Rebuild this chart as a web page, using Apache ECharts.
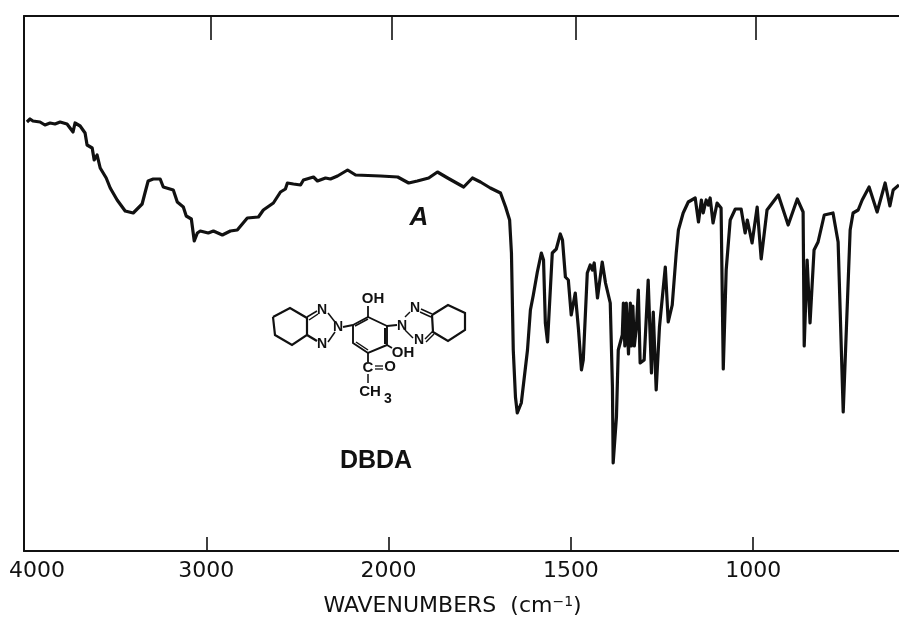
<!DOCTYPE html>
<html>
<head>
<meta charset="utf-8">
<style>html,body{margin:0;padding:0;background:#fff}#c{width:899px;height:619px}</style>
<script src="https://cdn.jsdelivr.net/npm/echarts@6/dist/echarts.min.js"></script>
</head>
<body>
<div id="c"></div>
<script>
const wavenumbers = [3984,3967,3951,3912,3885,3857,3830,3802,3764,3731,3720,3692,3665,3654,3626,3615,3599,3582,3549,3527,3489,3445,3401,3352,3335,3319,3291,3253,3236,3181,3159,3126,3110,3082,3066,3049,3033,2989,2961,2912,2868,2830,2775,2714,2687,2632,2593,2566,2555,2522,2483,2467,2412,2390,2346,2319,2280,2225,2181,2044,
1975,1945,1921,1890,1866,1838,1794,1770,1748,1721,1693,1679,1668,1663,1658,1652,1647,1636,1619,1611,1603,1592,1581,1575,1570,1564,1551,1540,1529,1523,1515,1507,1499,1488,1479,1471,1466,1455,1447,1441,1436,1427,1414,1405,1392,1386,1384,1375,1370,1359,1356,1352,1348,1342,1337,1334,1330,1326,1320,1315,1310,1299,1288,1279,1274,1266,1257,1241,1233,1222,1211,1205,1192,1178,1159,1150,1142,1137,1129,1123,1118,1110,1099,1088,1082,1074,1063,1049,1033,1022,1016,1003,989,978,962,931,904,879,863,860,852,844,833,822,805,781,767,753,734,726,712,701,682,660,638,625,616,600];
const transmittance = [85.8,86.4,86,85.8,85.2,85.6,85.4,85.8,85.4,83.8,85.6,85,83.6,81.2,80.6,78.2,79.2,76.6,74.6,72.6,70.2,68,67.6,69.4,71.8,74,74.4,74.4,72.8,72.2,69.8,68.8,67,66.4,62,63.6,64,63.6,64,63.2,64,64.2,66.6,66.8,68.2,69.6,71.8,72.4,73.6,73.4,73.2,74.2,74.8,74,74.6,74.4,75,76.2,75.2,75,
74.8,73.6,74,74.6,75.8,74.6,72.8,74.6,73.8,72.6,71.6,68.8,66.2,59.6,40.2,30.8,27.6,29.6,40.2,48.2,51.2,55.8,59.6,58.2,45.6,41.8,59.6,60.4,63.4,62.2,54.8,54.2,47.2,51.6,44.2,36.2,38.2,55.6,57.2,56.2,57.6,50.6,57.8,53.6,49.6,32.8,17.6,26.8,40.2,43.2,49.6,41,49.6,39.4,49.6,41,49,41,45,52.2,37.6,38.2,54.2,35.6,47.8,32.2,44.8,56.8,45.8,49.2,59.6,64.2,67.6,69.8,70.6,65.8,70.2,67.6,70.2,69.2,70.6,65.6,69.6,68.6,36.4,56.2,66.2,68.4,68.4,63.6,66.2,61.6,68.8,58.4,68.2,71.2,65.2,70.4,67.8,41,58.2,45.6,60.2,61.8,67.2,67.6,61.8,27.8,64.2,67.6,68.2,70.2,72.8,67.8,73.6,69,72.2,73.2];
const tickLabels = [4000,3000,2000,1500,1000];
const bottomTicks = [3000,2000,1500,1000];
const topTicks = [2978,1992,1488,994];
const axisTitle = 'WAVENUMBERS';

// The chart paper changes scale at 2000 cm-1 (1000 per unit above, 500 per unit below)
const toAxis = w => w >= 2000 ? (4000 - w) / 1000 : 2 + (2000 - w) / 500;
const ink = '#111';
const font = '"DejaVu Sans"';

const chart = echarts.init(document.getElementById('c'), null, {renderer:'canvas'});

function bond(pts, w) {
  return {type:'polyline', shape:{points:pts}, style:{stroke:ink, lineWidth:w||1.5, fill:null}, silent:true};
}
function label(x, y, t, size, extra) {
  return {type:'text', x, y, style:Object.assign({text:t, fill:ink, font:'bold '+size+'px "Liberation Sans"', align:'center', verticalAlign:'middle'}, extra||{}), silent:true};
}
const molecule = [
  bond([[273,317],[290,308],[307,318],[307,335],[292,345],[275,335],[273,317]],2.2),
  bond([[307,317],[317,311]]), bond([[309,320],[318,314]]),
  bond([[307,335],[317,341]],2.4),
  bond([[328,313],[335,322]]), bond([[328,342],[335,332]]),
  bond([[343,327],[353,325]],1.8),
  bond([[353,325],[368,317],[387,326],[387,345],[368,353],[353,343],[353,325]],1.9),
  bond([[355,326],[368,319]],1.5), bond([[385,328],[385,344]],2), bond([[356,342],[368,350]],1.5),
  bond([[368,317],[368,306]],1.8),
  bond([[387,326],[397,325]],1.8),
  bond([[405,317],[410,312]]), bond([[405,330],[413,338]]),
  bond([[432,315],[448,305],[465,313],[465,330],[448,341],[433,332],[432,315]],2.2),
  bond([[421,309],[432,314]]), bond([[420,312],[431,317]]),
  bond([[425,339],[433,331]]), bond([[426,342],[434,334]]),
  bond([[387,345],[392,348]],1.8),
  bond([[368,353],[368,362]],1.8),
  bond([[375,366],[383,366]],1.3), bond([[375,369],[383,369]],1.3),
  bond([[368,374],[368,383]],1.5),
  label(322,310,'N',14), label(322,344,'N',14), label(338,327,'N',14),
  label(402,326,'N',14), label(415,308,'N',14), label(419,340,'N',14),
  label(373,299,'OH',15), label(403,353,'OH',15),
  label(368,368,'C',15), label(390,367,'O',15),
  label(370,392,'CH',15), label(388,399,'3',14)
];

chart.setOption({
  animation:false,
  backgroundColor:'#fff',
  grid:{left:24, top:16, right:0, height:535, containLabel:false, outerBoundsMode:'none'},
  xAxis:[{
    type:'value', min:0, max:4.8, position:'bottom',
    splitLine:{show:false},
    axisLine:{show:true, onZero:false, lineStyle:{color:ink, width:2}},
    axisTick:{show:true, inside:true, length:14, customValues:bottomTicks.map(toAxis), lineStyle:{color:ink, width:1.6}},
    axisLabel:{
      show:true, margin:9, customValues:tickLabels.map(toAxis),
      color:ink, fontFamily:font, fontSize:22,
      formatter:v => {
        const i = tickLabels.findIndex(w => Math.abs(toAxis(w)-v) < 1e-6);
        return i === 0 ? '{first|'+tickLabels[i]+'}' : String(tickLabels[i]);
      },
      rich:{first:{color:ink, fontFamily:font, fontSize:22, padding:[0,0,0,26]}}
    },
    name:'{a|'+axisTitle+'  (cm}{b|\u22121}{a|)}',
    nameLocation:'middle', nameGap:44,
    nameTextStyle:{padding:[0,18,0,0], rich:{
      a:{color:ink, fontFamily:font, fontSize:22},
      b:{color:ink, fontFamily:font, fontSize:14, verticalAlign:'top', padding:[0,0,6,0]}
    }}
  },{
    type:'value', min:0, max:4.8, position:'top',
    splitLine:{show:false},
    axisLine:{show:true, onZero:false, lineStyle:{color:ink, width:2}},
    axisTick:{show:true, inside:true, length:24, customValues:topTicks.map(toAxis), lineStyle:{color:ink, width:1.6}},
    axisLabel:{show:false}
  }],
  yAxis:{
    type:'value', min:0, max:107, position:'left',
    splitLine:{show:false}, axisTick:{show:false}, axisLabel:{show:false},
    axisLine:{show:true, onZero:false, lineStyle:{color:ink, width:2}}
  },
  series:[{
    type:'line', xAxisIndex:0, showSymbol:false, smooth:false, silent:true,
    lineStyle:{color:ink, width:3.2, join:'round'},
    data:wavenumbers.map((w,i)=>[toAxis(w), transmittance[i]])
  }],
  graphic:{elements:[
    label(419,218,'A',26,{font:'italic bold 26px "Liberation Sans"'}),
    label(376,461,'DBDA',25)
  ].concat(molecule)}
});
</script>
</body>
</html>
